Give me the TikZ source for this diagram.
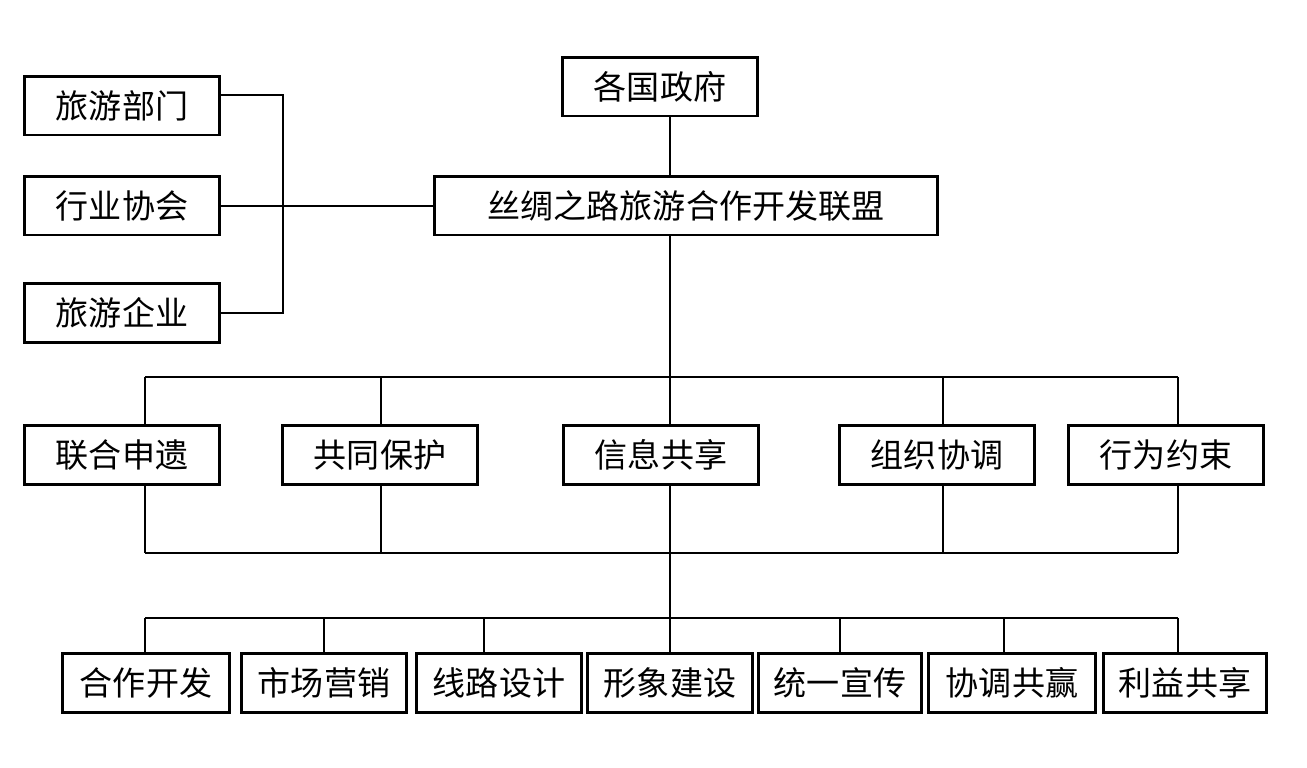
\documentclass[tikz,border=0pt]{standalone}
\usepackage{fontspec}
\newfontfamily\cjk{Noto Sans CJK SC}
\tikzset{
	box/.style={draw,line width=0.85pt,minimum height=0.58cm,inner sep=0pt,font=\cjk\fontsize{9.4}{11}\selectfont},
	link/.style={line width=0.45pt}
}
\begin{document}
\begin{tikzpicture}[x=0.01cm,y=-0.01cm]
	\useasboundingbox (0,0) rectangle (1307,768);
	\node[box,minimum width=1.94cm] (gov) at (660,87) {各国政府};
	\node[box,minimum width=5.03cm] (union) at (686,206) {丝绸之路旅游合作开发联盟};
	\node[box,minimum width=1.95cm] (dept) at (122,106) {旅游部门};
	\node[box,minimum width=1.95cm] (assoc) at (122,206) {行业协会};
	\node[box,minimum width=1.95cm] (firm) at (122,313) {旅游企业};

	\node[box,minimum width=1.94cm] (m1) at (122,455) {联合申遗};
	\node[box,minimum width=1.94cm] (m2) at (380,455) {共同保护};
	\node[box,minimum width=1.94cm] (m3) at (661,455) {信息共享};
	\node[box,minimum width=1.94cm] (m4) at (937,455) {组织协调};
	\node[box,minimum width=1.94cm] (m5) at (1166,455) {行为约束};

	\node[box,minimum width=1.66cm] (b1) at (146,683) {合作开发};
	\node[box,minimum width=1.64cm] (b2) at (324,683) {市场营销};
	\node[box,minimum width=1.65cm] (b3) at (499,683) {线路设计};
	\node[box,minimum width=1.64cm] (b4) at (670,683) {形象建设};
	\node[box,minimum width=1.62cm] (b5) at (840,683) {统一宣传};
	\node[box,minimum width=1.66cm] (b6) at (1012,683) {协调共赢};
	\node[box,minimum width=1.62cm] (b7) at (1185,683) {利益共享};

	\coordinate (brk) at (283,313);
	\draw[link] ([yshift=0.11cm]dept.east) -| (brk) -- (firm.east);
	\draw[link] (assoc.east) -- (union.west);

	\foreach \n/\x in {m1/145,m2/381,m3/670,m4/943,m5/1178}{
		\coordinate (\n-top) at (\x,377);
		\coordinate (\n-bot) at (\x,553);
		\draw[link] (\n-top) -- (\n-top |- \n.north);
		\draw[link] (\n-bot |- \n.south) -- (\n-bot);
	}
	\draw[link] (m1-top) -- (m5-top);
	\draw[link] (m1-bot) -- (m5-bot);
	\draw[link] (gov.south -| m3-top) -- (union.north -| m3-top);
	\draw[link] (union.south -| m3-top) -- (m3-top);

	\foreach \n/\x in {b1/145,b2/324,b3/484,b4/670,b5/840,b6/1004,b7/1178}{
		\coordinate (\n-tap) at (\x,618);
		\draw[link] (\n-tap) -- (\n-tap |- \n.north);
	}
	\draw[link] (b1-tap) -- (b7-tap);
	\draw[link] (m3-bot) -- (b4-tap);
\end{tikzpicture}
\end{document}
